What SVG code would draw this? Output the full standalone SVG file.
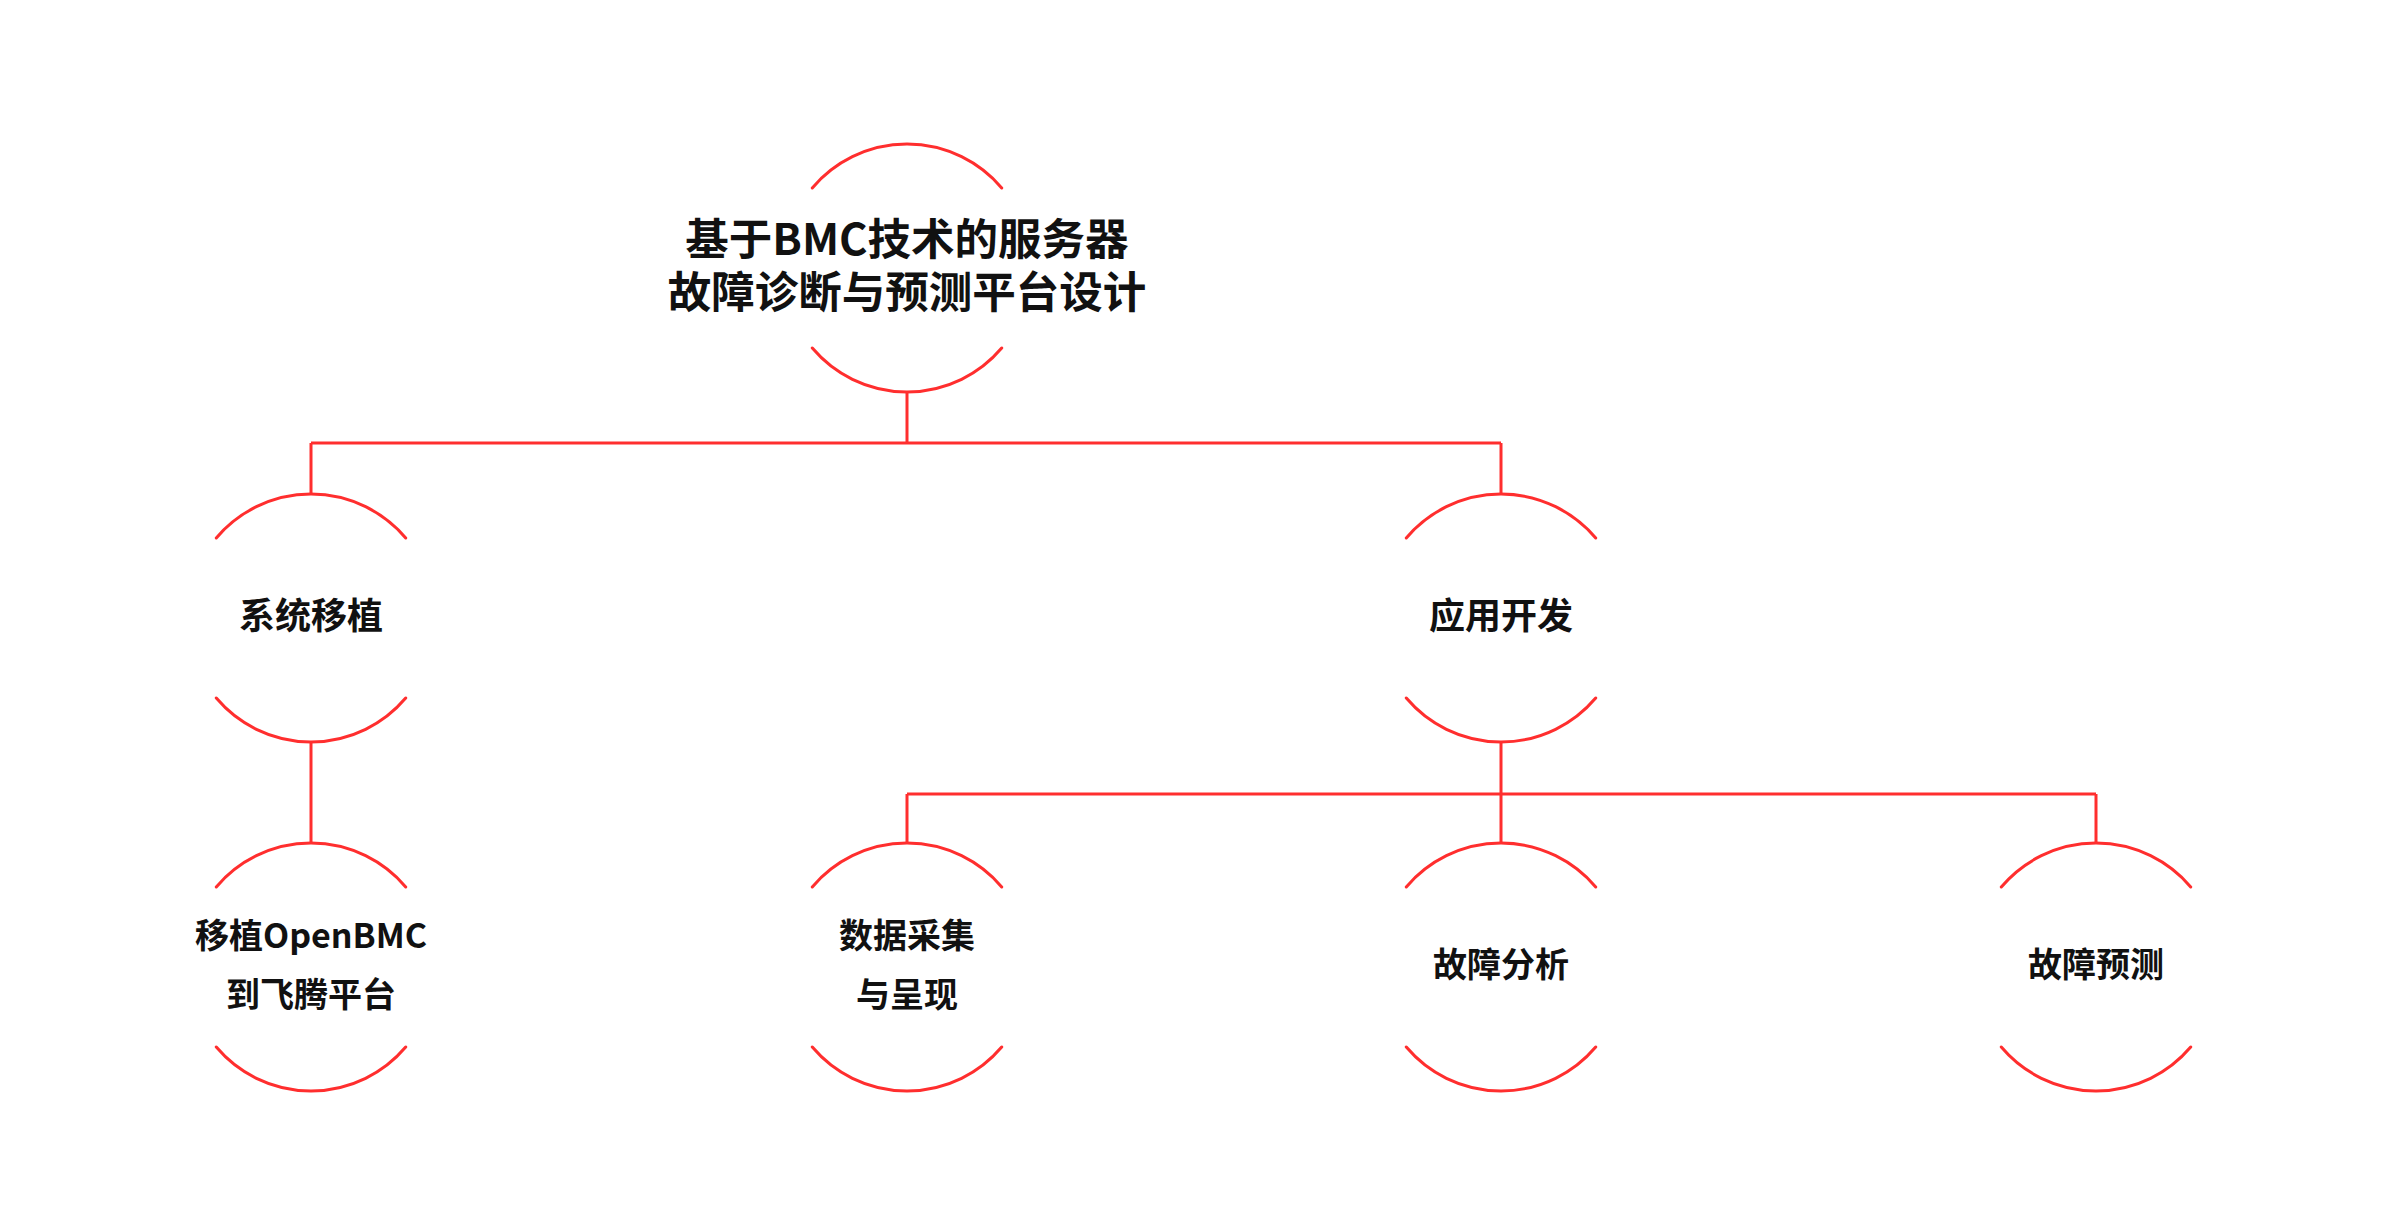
<svg xmlns="http://www.w3.org/2000/svg" width="2394" height="1223" viewBox="0 0 2394 1223">
<style>
.arc{fill:none;stroke:#ff2e2e;stroke-width:3;stroke-linecap:round}
.con{fill:none;stroke:#ff2e2e;stroke-width:3}
text{font-family:"Noto Sans CJK SC","Noto Sans",sans-serif;font-weight:bold;fill:#111;text-anchor:middle;dominant-baseline:central}
.t0{font-size:43.5px}
.t1{font-size:36px}
.t2{font-size:34px}
</style>
<rect width="2394" height="1223" fill="#fff"/>
<g id="connectors">
<path class="con" d="M907 392V443M311 443H1501M311 443V494M1501 443V494"/>
<path class="con" d="M311 742V843"/>
<path class="con" d="M1501 742V843M907 794H2096M907 794V843M2096 794V843"/>
</g>
<g id="root">
<path class="arc" d="M812.3 188A124 124 0 0 1 1001.7 188M812.3 348A124 124 0 0 0 1001.7 348"/>
<text class="t0" x="907" y="236">基于BMC技术的服务器</text>
<text class="t0" x="907" y="289">故障诊断与预测平台设计</text>
</g>
<g id="n-sys">
<path class="arc" d="M216.3 538A124 124 0 0 1 405.7 538M216.3 698A124 124 0 0 0 405.7 698"/>
<text class="t1" x="311" y="613">系统移植</text>
</g>
<g id="n-app">
<path class="arc" d="M1406.3 538A124 124 0 0 1 1595.7 538M1406.3 698A124 124 0 0 0 1595.7 698"/>
<text class="t1" x="1501" y="613">应用开发</text>
</g>
<g id="n-port">
<path class="arc" d="M216.3 887A124 124 0 0 1 405.7 887M216.3 1047A124 124 0 0 0 405.7 1047"/>
<text class="t2" x="311" y="933">移植OpenBMC</text>
<text class="t2" x="311" y="992">到飞腾平台</text>
</g>
<g id="n-data">
<path class="arc" d="M812.3 887A124 124 0 0 1 1001.7 887M812.3 1047A124 124 0 0 0 1001.7 1047"/>
<text class="t2" x="907" y="933">数据采集</text>
<text class="t2" x="907" y="992">与呈现</text>
</g>
<g id="n-analysis">
<path class="arc" d="M1406.3 887A124 124 0 0 1 1595.7 887M1406.3 1047A124 124 0 0 0 1595.7 1047"/>
<text class="t2" x="1501" y="962">故障分析</text>
</g>
<g id="n-predict">
<path class="arc" d="M2001.3 887A124 124 0 0 1 2190.7 887M2001.3 1047A124 124 0 0 0 2190.7 1047"/>
<text class="t2" x="2096" y="962">故障预测</text>
</g>
</svg>
